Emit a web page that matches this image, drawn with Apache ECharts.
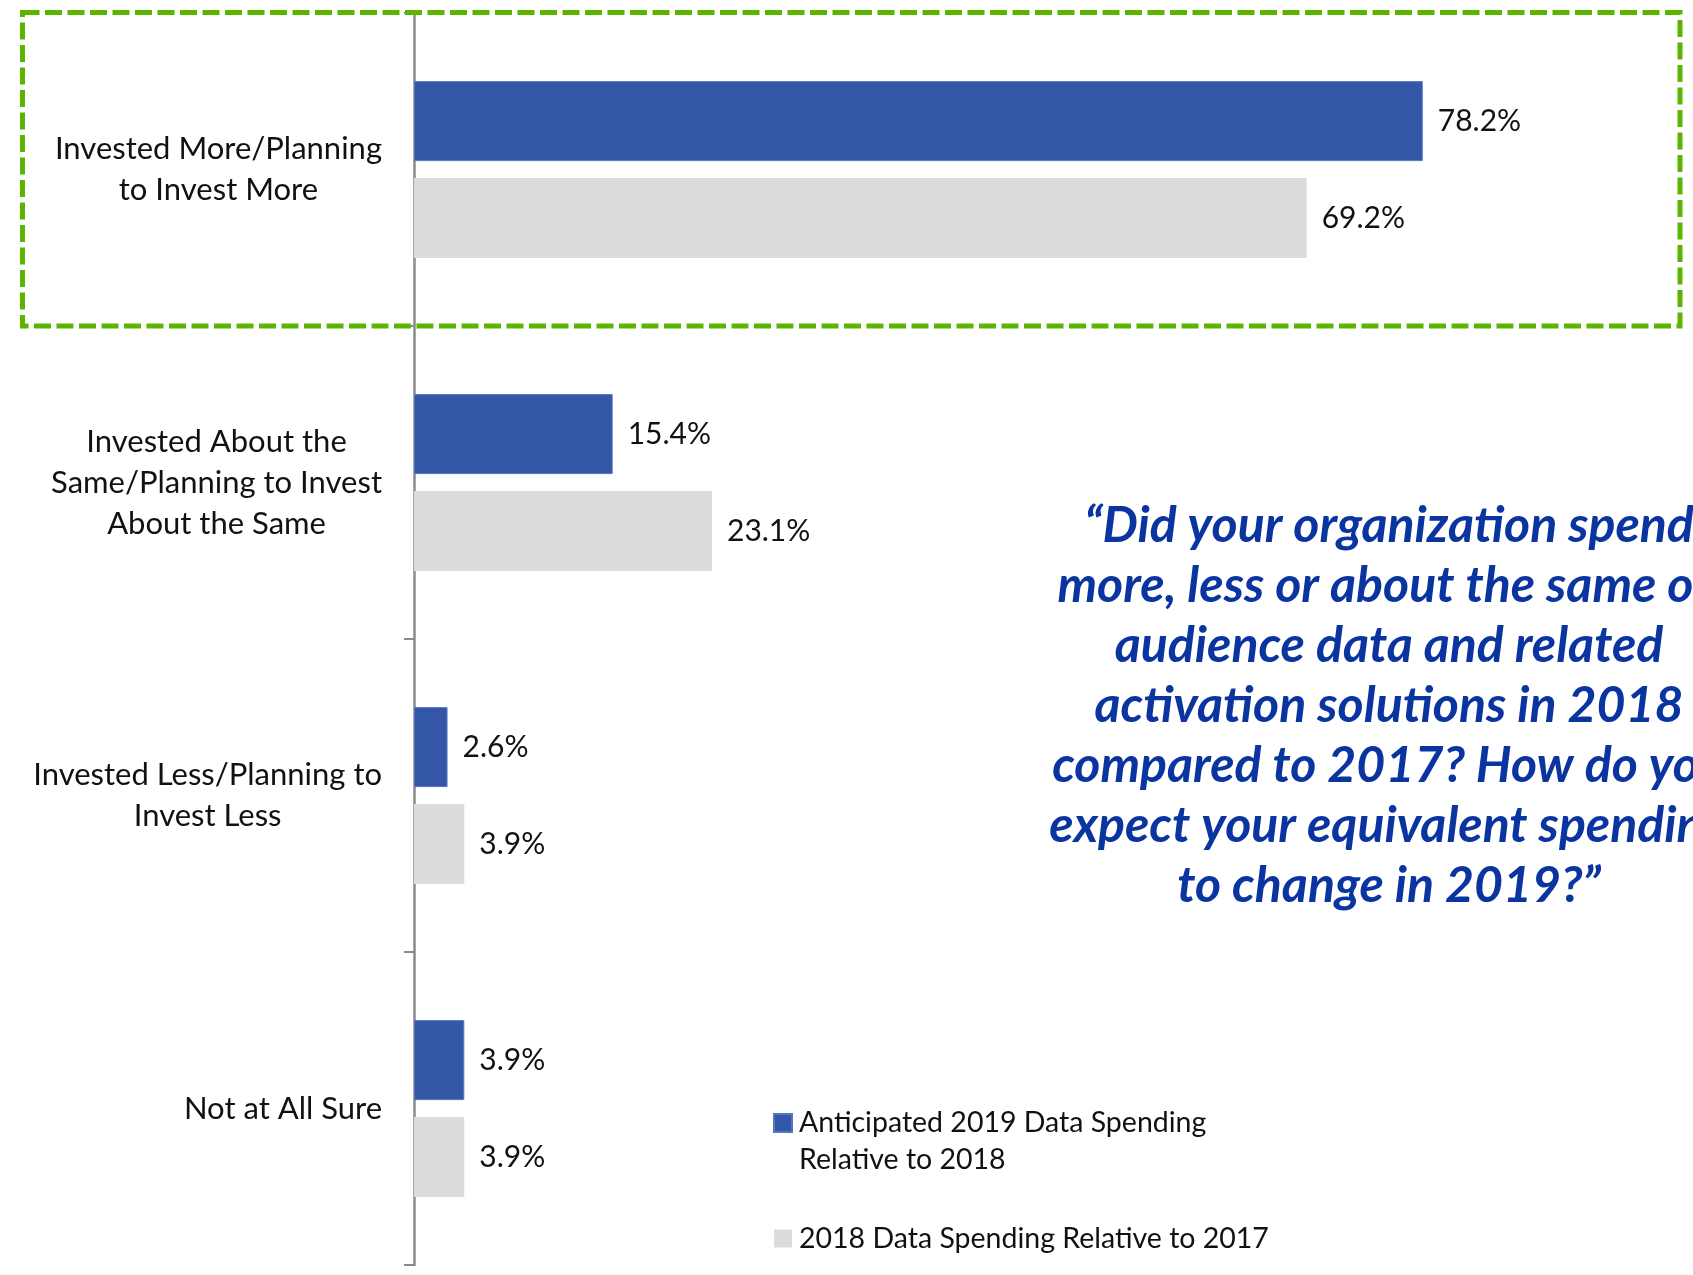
<!DOCTYPE html>
<html>
<head>
<meta charset="utf-8">
<script src="https://cdn.jsdelivr.net/npm/echarts@6/dist/echarts.min.js"></script>
<style>
html,body{margin:0;padding:0;background:#fff;}
#chart{width:1693px;height:1275px;}
</style>
</head>
<body>
<div id="chart"></div>
<script>
const categories = [
  'Invested More/Planning\nto Invest More',
  'Invested About the\nSame/Planning to Invest\nAbout the Same',
  'Invested Less/Planning to\nInvest Less',
  'Not at All Sure'
];
const seriesNames = [
  'Anticipated 2019 Data Spending\nRelative to 2018',
  '2018 Data Spending Relative to 2017'
];
const anticipated2019 = [78.2, 15.4, 2.6, 3.9];
const spending2018 = [69.2, 23.1, 3.9, 3.9];
const quoteLines = [
  '\u201CDid your organization spend',
  'more, less or about the same on',
  'audience data and related',
  'activation solutions in 2018',
  'compared to 2017? How do you',
  'expect your equivalent spending',
  'to change in 2019?\u201D'
];

const FONT = 'Lato, "Open Sans", sans-serif';
const chart = echarts.init(document.getElementById('chart'));
const labelStyle = {
  show: true, position: 'right', distance: 15,
  formatter: p => p.value.toFixed(1) + '%',
  fontSize: 30, fontFamily: FONT, color: '#111'
};
chart.setOption({
  animation: false,
  backgroundColor: '#ffffff',
  grid: { left: 414, right: 118, top: 13, bottom: 10 },
  xAxis: { type: 'value', min: 0, max: 90, show: false },
  yAxis: {
    type: 'category', inverse: true, data: categories,
    axisLine: { show: true, lineStyle: { color: '#8a8a8a', width: 2.5 } },
    axisTick: { show: true, length: 10, lineStyle: { color: '#8a8a8a', width: 2 } },
    splitLine: { show: false },
    axisLabel: {
      margin: 32, align: 'right',
      formatter: v => v.split('\n').map(s => '{c|' + s + '}').join('\n'),
      rich: { c: { align: 'center', fontSize: 31, lineHeight: 41, fontFamily: FONT, color: '#111' } }
    }
  },
  legend: {
    orient: 'vertical', left: 773, top: 1103.5, padding: 0,
    itemWidth: 18, itemHeight: 74, itemGap: 22,
    textStyle: { fontSize: 28.5, lineHeight: 37, fontFamily: FONT, color: '#111', padding: [0, 0, 0, 2] },
    data: [
      { name: seriesNames[0], icon: 'path://M0,0M18,74M0,9.5h18v18h-18z' },
      { name: seriesNames[1], icon: 'path://M0,0M18,74M0,28h18v18h-18z' }
    ]
  },
  series: [
    { name: seriesNames[0], type: 'bar', data: anticipated2019, barWidth: 80, barGap: '21%',
      itemStyle: { color: '#3356a7', borderColor: '#5577c0', borderWidth: 1 }, label: labelStyle },
    { name: seriesNames[1], type: 'bar', data: spending2018, barWidth: 80, barGap: '21%',
      itemStyle: { color: '#dcdcdc' }, label: labelStyle }
  ],
  graphic: [
    { type: 'rect', z: 100, silent: true,
      shape: { x: 22.5, y: 12.5, width: 1657.5, height: 313.5 },
      style: { fill: 'transparent', stroke: '#5db400', lineWidth: 5, lineDash: [17, 5.5] } },
    { type: 'text', z: 100, x: 1389, y: 496,
      style: { text: quoteLines.join('\n'), fill: '#0a34a0',
        font: 'italic bold 50px Lato, "Open Sans", sans-serif',
        align: 'center', verticalAlign: 'top', lineHeight: 60 } }
  ]
});
</script>
</body>
</html>
